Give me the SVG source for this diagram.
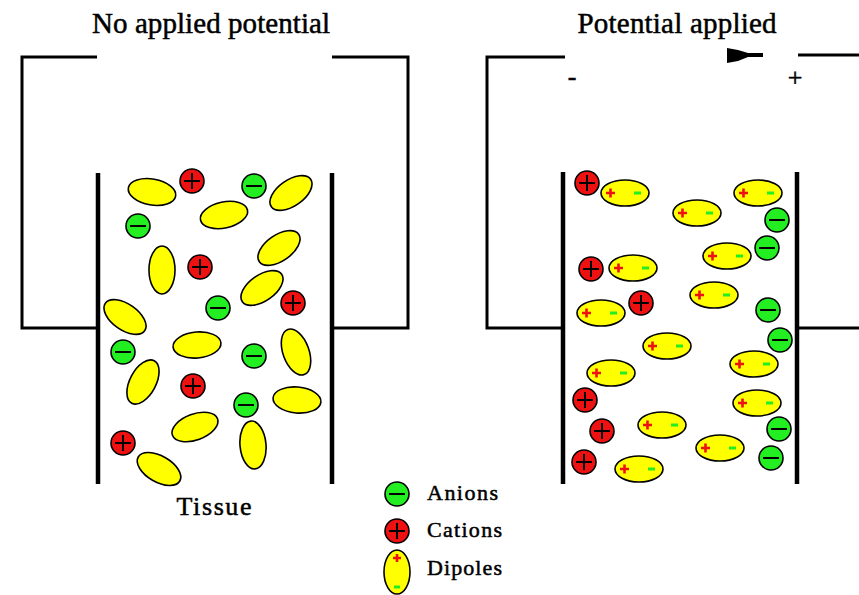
<svg xmlns="http://www.w3.org/2000/svg" xmlns:xlink="http://www.w3.org/1999/xlink" width="859" height="595" viewBox="0 0 859 595">
<style>
.wire{fill:none;stroke:#000;stroke-width:3}
.elec{stroke:#000;stroke-width:4.5}
text{font-family:'Liberation Serif','DejaVu Serif','Times New Roman',serif;fill:#000;stroke:#000;stroke-width:0.5}
.ion{stroke:#000;stroke-width:1.6}
.an{fill:#22ee22}
.cat{fill:#ee1111}
.yel{fill:#ffff00;stroke:#000;stroke-width:1.6}
</style>
<defs>
<g id="anion"><circle class="ion an" r="12"/><line x1="-8" y1="0" x2="8" y2="0" stroke="#000" stroke-width="2"/></g>
<g id="cation"><circle class="ion cat" r="12"/><line x1="-8" y1="0" x2="8" y2="0" stroke="#000" stroke-width="2"/><line x1="0" y1="-8" x2="0" y2="8" stroke="#000" stroke-width="2"/></g>
<ellipse id="ell" class="yel" rx="24" ry="13"/>
<g id="dip"><ellipse class="yel" rx="24" ry="13"/><path d="M-19,0H-10M-14.5,-4.5V4.5" stroke="#ee1111" stroke-width="2.6"/><path d="M9,0H16" stroke="#22ee22" stroke-width="3"/></g>
</defs>

<g id="connectors">
<polyline class="wire" points="97,57 22,57 22,328 98,328"/>
<polyline class="wire" points="332,57 408,57 408,328 332,328"/>
<polyline class="wire" points="565,57 487,57 487,328 563,328"/>
<polyline class="wire" points="798,55 859,55"/>
<line class="wire" x1="797" y1="328" x2="859" y2="328"/>
<polygon points="727,48 738,50 748,53 763,53 763,57 748,57 738,61 727,63" fill="#000"/>
</g>

<g id="title-left"><text font-family="Liberation Serif, DejaVu Serif, serif" x="211" y="33" font-size="29" text-anchor="middle" textLength="238">No applied potential</text></g>
<g id="title-right"><text font-family="Liberation Serif, DejaVu Serif, serif" x="677" y="33" font-size="29" text-anchor="middle" textLength="199">Potential applied</text></g>
<g id="minus-sign"><text font-family="Liberation Serif, DejaVu Serif, serif" x="572" y="85" font-size="26" text-anchor="middle">-</text></g>
<g id="plus-sign"><text font-family="Liberation Serif, DejaVu Serif, serif" x="795" y="86" font-size="26" text-anchor="middle">+</text></g>

<g id="left-electrodes">
<line class="elec" x1="98" y1="173" x2="98" y2="484"/>
<line class="elec" x1="332" y1="173" x2="332" y2="484"/>
</g>

<g id="left-tissue">
<use xlink:href="#ell" transform="translate(152,192) rotate(10)"/>
<use xlink:href="#ell" transform="translate(291,193) rotate(-35)"/>
<use xlink:href="#ell" transform="translate(224,215) rotate(-12)"/>
<use xlink:href="#ell" transform="translate(162,270) rotate(90)"/>
<use xlink:href="#ell" transform="translate(279,248) rotate(-35)"/>
<use xlink:href="#ell" transform="translate(262,288) rotate(-35)"/>
<use xlink:href="#ell" transform="translate(125,317) rotate(35)"/>
<use xlink:href="#ell" transform="translate(197,345) rotate(-5)"/>
<use xlink:href="#ell" transform="translate(296,352) rotate(70)"/>
<use xlink:href="#ell" transform="translate(143,382) rotate(-62)"/>
<use xlink:href="#ell" transform="translate(297,400) rotate(5)"/>
<use xlink:href="#ell" transform="translate(195,427) rotate(-20)"/>
<use xlink:href="#ell" transform="translate(253,445) rotate(85)"/>
<use xlink:href="#ell" transform="translate(159,469) rotate(30)"/>
<use xlink:href="#cation" x="192" y="181"/>
<use xlink:href="#cation" x="200" y="267"/>
<use xlink:href="#cation" x="293" y="303"/>
<use xlink:href="#cation" x="193" y="386"/>
<use xlink:href="#cation" x="123" y="443"/>
<use xlink:href="#anion" x="254" y="186"/>
<use xlink:href="#anion" x="138" y="226"/>
<use xlink:href="#anion" x="218" y="308"/>
<use xlink:href="#anion" x="123" y="352"/>
<use xlink:href="#anion" x="254" y="356"/>
<use xlink:href="#anion" x="246" y="405"/>
</g>
<g id="tissue-label"><text font-family="Liberation Serif, DejaVu Serif, serif" x="214" y="515" font-size="26" text-anchor="middle" textLength="75">Tissue</text></g>

<g id="right-electrodes">
<line class="elec" x1="563" y1="172" x2="563" y2="484"/>
<line class="elec" x1="797" y1="172" x2="797" y2="484"/>
</g>

<g id="right-tissue">
<use xlink:href="#dip" x="625" y="193"/>
<use xlink:href="#dip" x="758" y="193"/>
<use xlink:href="#dip" x="697" y="213"/>
<use xlink:href="#dip" x="727" y="256"/>
<use xlink:href="#dip" x="633" y="268"/>
<use xlink:href="#dip" x="714" y="295"/>
<use xlink:href="#dip" x="601" y="313"/>
<use xlink:href="#dip" x="667" y="346"/>
<use xlink:href="#dip" x="754" y="364"/>
<use xlink:href="#dip" x="611" y="373"/>
<use xlink:href="#dip" x="757" y="403"/>
<use xlink:href="#dip" x="662" y="425"/>
<use xlink:href="#dip" x="720" y="448"/>
<use xlink:href="#dip" x="639" y="469"/>
<use xlink:href="#cation" x="587" y="183"/>
<use xlink:href="#cation" x="591" y="269"/>
<use xlink:href="#cation" x="641" y="303"/>
<use xlink:href="#cation" x="585" y="400"/>
<use xlink:href="#cation" x="602" y="431"/>
<use xlink:href="#cation" x="584" y="462"/>
<use xlink:href="#anion" x="777" y="220"/>
<use xlink:href="#anion" x="767" y="248"/>
<use xlink:href="#anion" x="768" y="310"/>
<use xlink:href="#anion" x="780" y="340"/>
<use xlink:href="#anion" x="779" y="429"/>
<use xlink:href="#anion" x="771" y="458"/>
</g>

<g id="legend-anions"><use xlink:href="#anion" x="397" y="494"/><text font-family="Liberation Serif, DejaVu Serif, serif" x="427" y="500" font-size="22" textLength="71">Anions</text></g>
<g id="legend-cations"><use xlink:href="#cation" x="397" y="531"/><text font-family="Liberation Serif, DejaVu Serif, serif" x="427" y="537" font-size="22" textLength="75">Cations</text></g>
<g id="legend-dipoles"><ellipse class="yel" cx="397" cy="572" rx="13" ry="22"/><path d="M393,558H401M397,554V562" stroke="#ee1111" stroke-width="2.6"/><path d="M394,587H400" stroke="#22ee22" stroke-width="3"/><text font-family="Liberation Serif, DejaVu Serif, serif" x="427" y="575" font-size="22" textLength="75">Dipoles</text></g>
</svg>
